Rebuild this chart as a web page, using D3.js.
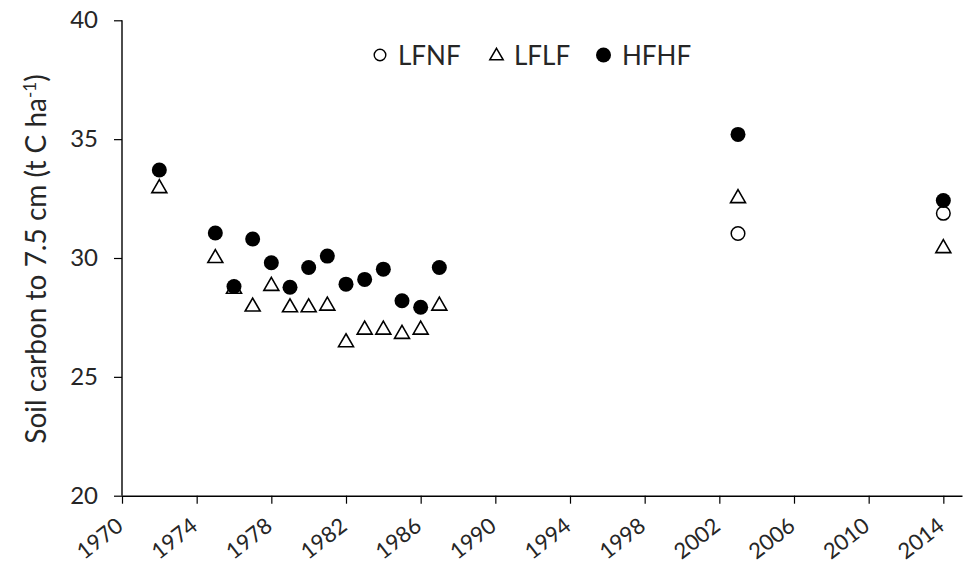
<!DOCTYPE html>
<html>
<head>
<meta charset="utf-8">
<script src="https://cdn.jsdelivr.net/npm/d3@7"></script>
<style>
  body { margin: 0; background: #fff; }
  svg { display: block; font-family: Lato, "Open Sans", sans-serif; }
</style>
</head>
<body>
<svg id="chart" width="972" height="566"></svg>
<script>
// Soil carbon to 7.5 cm depth, three fertiliser treatments
const years1 = [1972, 1975, 1976, 1977, 1978, 1979, 1980, 1981, 1982, 1983, 1984, 1985, 1986, 1987, 2003, 2014];
const hfhf   = [33.7, 31.05, 28.8, 30.8, 29.8, 28.77, 29.6, 30.08, 28.9, 29.1, 29.53, 28.2, 27.93, 29.6, 35.2, 32.42];
const lflf   = [32.93, 29.99, 28.7, 27.95, 28.82, 27.92, 27.92, 27.99, 26.45, 26.98, 26.98, 26.8, 26.98, 27.99, 32.51, 30.41];
const lfnfYears = [2003, 2014];
const lfnf      = [31.03, 31.88];

const xTicks = [1970, 1974, 1978, 1982, 1986, 1990, 1994, 1998, 2002, 2006, 2010, 2014];
const yTicks = [20, 25, 30, 35, 40];
const seriesNames = ["LFNF", "LFLF", "HFHF"];

const svg = d3.select("#chart");
const plotLeft = 122, plotRight = 962, plotTop = 20.3, plotBottom = 495.7;
const textColor = "#262626";

const x = d3.scaleLinear().domain([1970, 2015]).range([plotLeft, plotRight]);
const y = d3.scaleLinear().domain([20, 40]).range([plotBottom, plotTop]);

// Axes
const yAxis = svg.append("g")
  .attr("transform", `translate(${plotLeft},0)`)
  .call(d3.axisLeft(y).tickValues(yTicks).tickSize(8).tickPadding(16).tickFormat(d3.format("d")));
const xAxis = svg.append("g")
  .attr("transform", `translate(0,${plotBottom})`)
  .call(d3.axisBottom(x).tickValues(xTicks).tickSize(8).tickSizeOuter(0).tickFormat(d3.format("d")));

[yAxis, xAxis].forEach(g => {
  g.select(".domain").attr("stroke", "#000").attr("stroke-width", 1.4);
  g.selectAll(".tick line").attr("stroke", "#000").attr("stroke-width", 1.2);
  g.selectAll("text").attr("fill", textColor).attr("font-family", "Lato, sans-serif");
});
yAxis.selectAll("text").attr("font-size", 24);
yAxis.select(".domain").attr("d", `M0,${plotBottom}V${plotTop}`);

xAxis.selectAll(".tick text")
  .attr("font-size", 22)
  .attr("text-anchor", "end")
  .attr("dy", null)
  .attr("y", 0).attr("x", 0)
  .attr("transform", "translate(2,33) rotate(-38)");

// Y axis title
svg.append("text")
  .attr("transform", `translate(46,259) rotate(-90)`)
  .attr("text-anchor", "middle")
  .attr("fill", textColor)
  .attr("font-size", 28)
  .call(t => {
    t.append("tspan").text("Soil carbon to 7.5 cm (t C ha");
    t.append("tspan").attr("font-size", 17).attr("dy", -10).text("-1");
    t.append("tspan").attr("dy", 10).text(")");
  });

const triSym = d3.symbol().type(d3.symbolTriangle).size(97);

// LFLF open triangles
svg.append("g").selectAll("path")
  .data(years1.map((yr, i) => [yr, lflf[i]]))
  .join("path")
  .attr("d", triSym)
  .attr("transform", d => `translate(${x(d[0])},${y(d[1])})`)
  .attr("fill", "#fff").attr("stroke", "#000").attr("stroke-width", 1.6);

// LFNF open circles
svg.append("g").selectAll("circle")
  .data(lfnfYears.map((yr, i) => [yr, lfnf[i]]))
  .join("circle")
  .attr("cx", d => x(d[0])).attr("cy", d => y(d[1]))
  .attr("r", 6.8)
  .attr("fill", "#fff").attr("stroke", "#000").attr("stroke-width", 1.5);

// HFHF filled circles
svg.append("g").selectAll("circle")
  .data(years1.map((yr, i) => [yr, hfhf[i]]))
  .join("circle")
  .attr("cx", d => x(d[0])).attr("cy", d => y(d[1]))
  .attr("r", 7.5)
  .attr("fill", "#000");

// Legend
const legend = svg.append("g");
const legendItems = [
  { name: seriesNames[0], mx: 380, tx: 398 },
  { name: seriesNames[1], mx: 496.5, tx: 514 },
  { name: seriesNames[2], mx: 603.5, tx: 622 }
];
legendItems.forEach((it, i) => {
  if (i === 0) {
    legend.append("circle").attr("cx", it.mx).attr("cy", 55).attr("r", 5.8)
      .attr("fill", "#fff").attr("stroke", "#000").attr("stroke-width", 1.4);
  } else if (i === 1) {
    legend.append("path").attr("d", d3.symbol().type(d3.symbolTriangle).size(78))
      .attr("transform", `translate(${it.mx},56)`)
      .attr("fill", "#fff").attr("stroke", "#000").attr("stroke-width", 1.5);
  } else {
    legend.append("circle").attr("cx", it.mx).attr("cy", 55).attr("r", 7.5).attr("fill", "#000");
  }
  legend.append("text").attr("x", it.tx).attr("y", 65)
    .attr("fill", textColor).attr("font-size", 26).text(it.name);
});
</script>
</body>
</html>
